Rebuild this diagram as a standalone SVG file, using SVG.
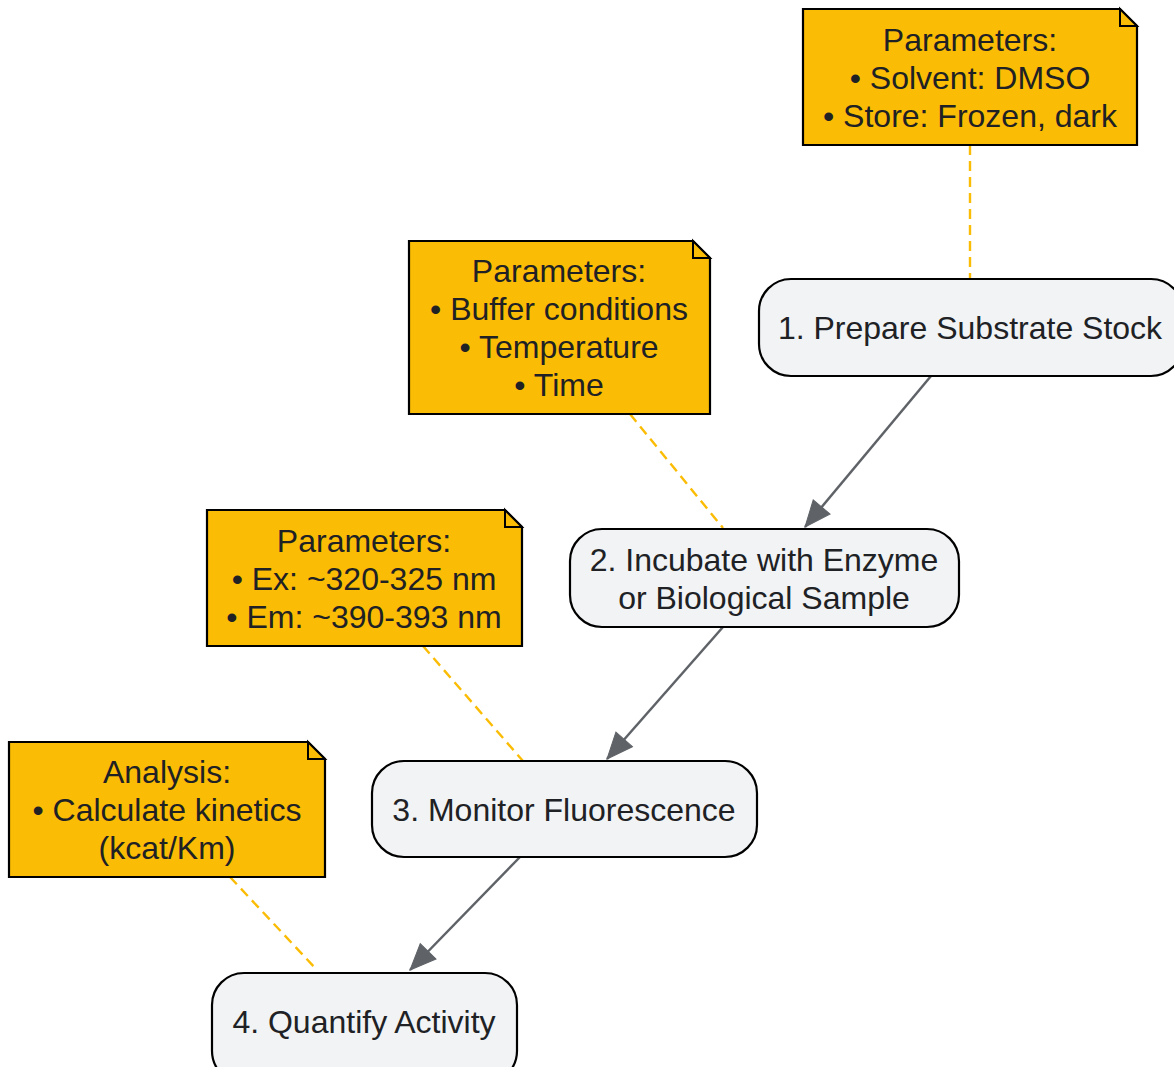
<svg xmlns="http://www.w3.org/2000/svg" width="1174" height="1067" viewBox="0 0 1174 1067">
<style>
.note{fill:#fbbc05;stroke:#000;stroke-width:2.2}
.fold{fill:#fbbc05;stroke:#000;stroke-width:2}
.node{fill:#f1f3f4;stroke:#000;stroke-width:2.2}
text{font-family:"Liberation Sans",Arial,sans-serif;font-size:32px;fill:#202124;text-anchor:middle}
.dash{stroke:#fbbc05;stroke-width:2.4;stroke-dasharray:10,6;fill:none}
.edge{stroke:#5f6368;stroke-width:2.5;fill:none}
</style>
<defs>
<marker id="ah" markerUnits="userSpaceOnUse" markerWidth="30" markerHeight="30" viewBox="0 0 30 30" refX="28" refY="12" orient="auto">
<path d="M2,1 L28,12 L2,23 Z" fill="#5f6368" stroke="#5f6368" stroke-width="1"/>
</marker>
</defs>
<g id="connectors">
<line class="dash" x1="970" y1="145" x2="970" y2="279"/>
<line class="dash" x1="630" y1="414" x2="723" y2="528"/>
<line class="dash" x1="423" y1="646" x2="523" y2="761"/>
<line class="dash" x1="230" y1="877" x2="317" y2="970"/>
<line class="edge" x1="931" y1="376" x2="805" y2="527" marker-end="url(#ah)"/>
<line class="edge" x1="723" y1="627" x2="607" y2="759" marker-end="url(#ah)"/>
<line class="edge" x1="520" y1="857" x2="410" y2="970" marker-end="url(#ah)"/>
</g>
<g id="note1">
<path class="note" d="M803,9 H1120 L1137,26 V145 H803 Z"/>
<path class="fold" d="M1120,9 V26 H1137 Z"/>
<text x="970" y="51">Parameters:</text>
<text x="970" y="89">• Solvent: DMSO</text>
<text x="970" y="127">• Store: Frozen, dark</text>
</g>
<g id="node1">
<rect class="node" x="759" y="279" width="424" height="97" rx="32"/>
<text x="970" y="339">1. Prepare Substrate Stock</text>
</g>
<g id="note2">
<path class="note" d="M409,241 H693 L710,258 V414 H409 Z"/>
<path class="fold" d="M693,241 V258 H710 Z"/>
<text x="559" y="282">Parameters:</text>
<text x="559" y="320">• Buffer conditions</text>
<text x="559" y="358">• Temperature</text>
<text x="559" y="396">• Time</text>
</g>
<g id="node2">
<rect class="node" x="570" y="529" width="389" height="98" rx="32"/>
<text x="764" y="571">2. Incubate with Enzyme</text>
<text x="764" y="609">or Biological Sample</text>
</g>
<g id="note3">
<path class="note" d="M207,510 H505 L522,527 V646 H207 Z"/>
<path class="fold" d="M505,510 V527 H522 Z"/>
<text x="364" y="552">Parameters:</text>
<text x="364" y="590">• Ex: ~320-325 nm</text>
<text x="364" y="628">• Em: ~390-393 nm</text>
</g>
<g id="node3">
<rect class="node" x="372" y="761" width="385" height="96" rx="32"/>
<text x="564" y="821">3. Monitor Fluorescence</text>
</g>
<g id="note4">
<path class="note" d="M9,742 H308 L325,759 V877 H9 Z"/>
<path class="fold" d="M308,742 V759 H325 Z"/>
<text x="167" y="783">Analysis:</text>
<text x="167" y="821">• Calculate kinetics</text>
<text x="167" y="859">(kcat/Km)</text>
</g>
<g id="node4">
<rect class="node" x="212" y="973" width="305" height="110" rx="32"/>
<text x="364" y="1033">4. Quantify Activity</text>
</g>
</svg>
